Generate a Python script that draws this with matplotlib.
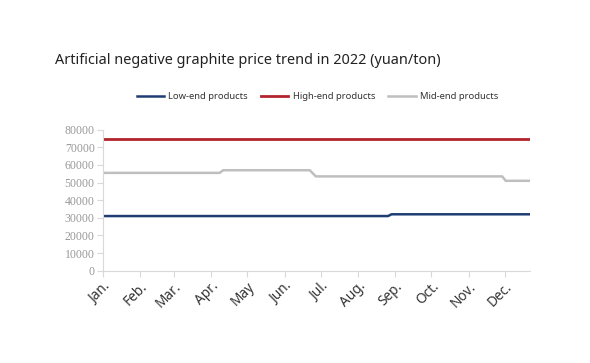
import numpy as np
import pandas as pd
import matplotlib
matplotlib.use('Agg')
import matplotlib.pyplot as plt

# change points of each series (value holds until the next date)
low_dates = ['2022-01-01', '2022-08-26', '2022-08-29', '2022-12-22']
low_vals = [31000, 31000, 32000, 32000]

high_dates = ['2022-01-01', '2022-12-22']
high_vals = [75000, 75000]

mid_dates = ['2022-01-01', '2022-04-08', '2022-04-11', '2022-06-22', '2022-06-27',
             '2022-11-29', '2022-12-02', '2022-12-22']
mid_vals = [55500, 55500, 57000, 57000, 53500, 53500, 51000, 51000]

month_labels = ['Jan.', 'Feb.', 'Mar.', 'Apr.', 'May', 'Jun.', 'Jul.', 'Aug.',
                'Sep.', 'Oct.', 'Nov.', 'Dec.']

plt.rcParams['font.family'] = ['Noto Sans', 'DejaVu Sans']

fig = plt.figure(figsize=(5.9, 3.63), dpi=100)
ax = fig.add_axes([0.1746, 0.2543, 0.7234, 0.3884])

ax.plot(pd.to_datetime(low_dates), low_vals, color='#1f3d73', lw=1.8, label='Low-end products')
ax.plot(pd.to_datetime(high_dates), high_vals, color='#b3242c', lw=2.0, label='High-end products')
ax.plot(pd.to_datetime(mid_dates), mid_vals, color='#bfbfbf', lw=1.8, label='Mid-end products')

ax.set_ylim(0, 80000)
ax.set_yticks(np.arange(0, 80001, 10000))
ax.set_xlim(pd.Timestamp('2022-01-01'), pd.Timestamp('2022-12-22'))
ax.set_xticks(pd.date_range('2022-01-01', periods=12, freq='MS'))
ax.set_xticklabels(month_labels, rotation=45, ha='right', rotation_mode='anchor',
                   fontsize=9.8, color='#333333')
for lab in ax.get_yticklabels():
    lab.set_fontsize(8.5)
    lab.set_color('#999999')
    lab.set_family('Liberation Serif')

for s in ['top', 'right']:
    ax.spines[s].set_visible(False)
for s in ['left', 'bottom']:
    ax.spines[s].set_color('#d9d9d9')
ax.tick_params(axis='both', color='#d9d9d9', length=4, direction='out')
ax.tick_params(axis='x', pad=2)
ax.tick_params(axis='y', pad=2)

fig.text(0.093, 0.832, 'Artificial negative graphite price trend in 2022 (yuan/ton)',
         fontsize=10.4, color='#222222', va='center', ha='left')

fig.legend(loc='center', bbox_to_anchor=(0.538, 0.733), ncol=3, frameon=False,
           fontsize=6.8, handlelength=2.9, columnspacing=1.4, handletextpad=0.45,
           labelcolor='#333333')

fig.savefig('out.png', dpi=100)
